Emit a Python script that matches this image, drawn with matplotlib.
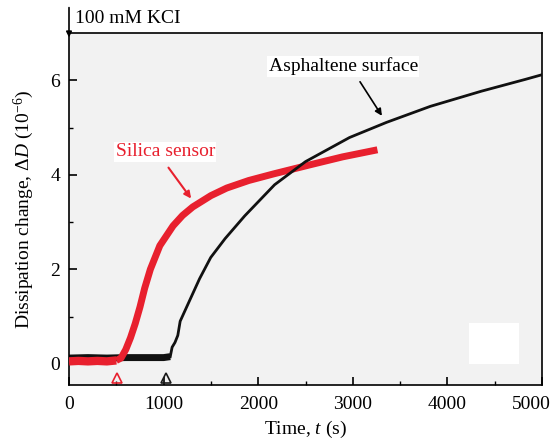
import matplotlib
matplotlib.use("Agg")
import matplotlib.pyplot as plt
import matplotlib.transforms as mtransforms
from matplotlib.patches import Rectangle

# Silica sensor (red)
silica_t = [0, 100, 200, 300, 400, 500, 550, 600, 650, 700, 750, 800, 860, 960,
            1100, 1200, 1308, 1500, 1667, 1900, 2163, 2543, 2891, 3260]
silica_d = [0.05, 0.06, 0.05, 0.06, 0.05, 0.07, 0.12, 0.3, 0.55, 0.85, 1.2, 1.6, 2.0, 2.5,
            2.92, 3.14, 3.32, 3.56, 3.72, 3.88, 4.02, 4.21, 4.38, 4.53]

# Asphaltene surface (black)
asph_t = [0, 200, 400, 600, 800, 1000, 1070, 1090, 1120, 1150, 1175, 1266, 1380, 1498,
          1650, 1857, 2173, 2500, 2965, 3355, 3819, 4357, 4821, 5000]
asph_d = [0.12, 0.13, 0.12, 0.13, 0.13, 0.13, 0.15, 0.35, 0.45, 0.6, 0.9, 1.3, 1.8, 2.25,
          2.65, 3.13, 3.79, 4.28, 4.79, 5.11, 5.45, 5.77, 6.02, 6.12]

# injection markers
mark_t = [508, 1027]
mark_colors = ["#e8202e", "#1a1a1a"]

plt.rcParams["font.family"] = ["Liberation Serif", "DejaVu Serif"]
plt.rcParams["mathtext.fontset"] = "custom"
plt.rcParams["mathtext.rm"] = "Liberation Serif"
plt.rcParams["mathtext.it"] = "Liberation Serif:italic"

fig = plt.figure(figsize=(5.52, 4.42), dpi=100)
ax = fig.add_axes([0.125, 0.129, 0.857, 0.796])
ax.set_facecolor("#f2f2f2")

# white patch left over in the scanned figure
ax.add_patch(Rectangle((4225, 0.0), 530, 0.87, color="white", zorder=0.5, lw=0))

# baseline part of black first, then red, then rising black on top
nb = asph_t.index(1070) + 1
ax.plot(asph_t[:nb], asph_d[:nb], color="#111111", lw=5, solid_capstyle="butt", zorder=2)
ax.plot(silica_t[:6], silica_d[:6], color="#e8202e", lw=6, solid_capstyle="butt", zorder=3)
ax.plot(silica_t[5:], silica_d[5:], color="#e8202e", lw=5, solid_capstyle="butt", zorder=3)
ax.plot(asph_t[nb - 1:], asph_d[nb - 1:], color="#111111", lw=2, zorder=4)

for t, c in zip(mark_t, mark_colors):
    ax.plot(t, -0.3, marker="^", ms=7, mfc="none", mec=c, mew=1.2, zorder=5)

ax.set_xlim(0, 5000)
ax.set_ylim(-0.45, 7.0)
ax.set_xticks([0, 1000, 2000, 3000, 4000, 5000])
ax.set_xticks([500, 1500, 2500, 3500, 4500], minor=True)
ax.set_yticks([0, 2, 4, 6])
ax.set_yticks([1, 3, 5], minor=True)
ax.tick_params(direction="in", which="major", length=6, width=1.2, labelsize=14)
ax.tick_params(axis="x", pad=8)
ax.tick_params(axis="y", pad=6.5)
ax.tick_params(direction="in", which="minor", length=3, width=1.0)
for s in ax.spines.values():
    s.set_linewidth(1.2)

# last x label sits a bit left so it stays inside the figure
lbl = ax.get_xticklabels()[-1]
lbl.set_transform(lbl.get_transform() + mtransforms.ScaledTranslation(-11 / 100, 0, fig.dpi_scale_trans))

ax.set_xlabel("Time, $t$ (s)", fontsize=14, labelpad=4)
ax.set_ylabel("Dissipation change, $\\Delta D$ ($10^{-6}$)", fontsize=14, labelpad=10.5)

ax.text(2900, 6.3, "Asphaltene surface", fontsize=14, ha="center", va="center",
        bbox=dict(facecolor="white", edgecolor="none", pad=1), zorder=6)
ax.annotate("", xy=(3323, 5.2), xytext=(3060, 6.02),
            arrowprops=dict(arrowstyle="-|>", color="black", lw=1.2, mutation_scale=10), zorder=6)

ax.text(1017, 4.49, "Silica sensor", fontsize=14, color="#e8202e", ha="center", va="center",
        bbox=dict(facecolor="white", edgecolor="none", pad=1), zorder=6)
ax.annotate("", xy=(1308, 3.45), xytext=(1034, 4.2),
            arrowprops=dict(arrowstyle="-|>", color="#e8202e", lw=1.5, mutation_scale=10), zorder=6)

ax.annotate("", xy=(0, 6.85), xytext=(0, 7.6), annotation_clip=False,
            arrowprops=dict(arrowstyle="-|>", color="black", lw=1.2, mutation_scale=8))
ax.text(64, 7.32, "100 mM KCI", fontsize=14, ha="left", va="center", clip_on=False)

fig.savefig("out.png", dpi=100)
